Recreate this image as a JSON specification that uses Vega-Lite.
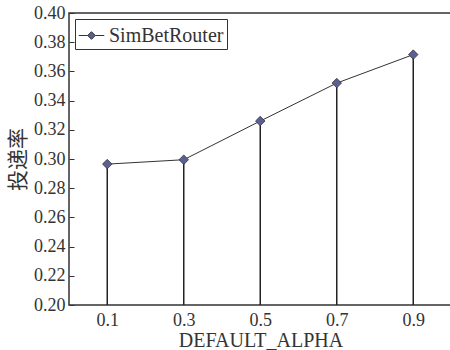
{
  "$schema": "https://vega.github.io/schema/vega-lite/v6.json",
  "autosize": "none",
  "padding": {"left": 69, "top": 13, "right": 0, "bottom": 45},
  "width": 383,
  "height": 292,
  "background": "white",
  "config": {
    "font": "Liberation Serif",
    "view": {"stroke": "#333", "strokeWidth": 1.5}
  },
  "data": {
    "values": [
      {"alpha": 0.1, "rate": 0.2965, "series": "SimBetRouter"},
      {"alpha": 0.3, "rate": 0.2995, "series": "SimBetRouter"},
      {"alpha": 0.5, "rate": 0.326, "series": "SimBetRouter"},
      {"alpha": 0.7, "rate": 0.352, "series": "SimBetRouter"},
      {"alpha": 0.9, "rate": 0.3715, "series": "SimBetRouter"}
    ]
  },
  "encoding": {
    "x": {
      "field": "alpha", "type": "quantitative",
      "scale": {"domain": [0, 1.0013], "nice": false, "zero": false},
      "axis": {
        "values": [0.1, 0.3, 0.5, 0.7, 0.9], "format": ".1f",
        "ticks": false, "grid": false, "domain": false,
        "labelFont": "Liberation Serif",
        "labelFontSize": 18, "labelColor": "#333", "labelPadding": 6,
        "title": "DEFAULT_ALPHA", "titleFont": "Liberation Serif", "titleFontSize": 20, "titleFontWeight": "normal",
        "titleColor": "#333", "titlePadding": 1
      }
    },
    "y": {
      "field": "rate", "type": "quantitative",
      "scale": {"domain": [0.2, 0.4], "nice": false, "zero": false},
      "axis": {
        "values": [0.2, 0.22, 0.24, 0.26, 0.28, 0.3, 0.32, 0.34, 0.36, 0.38, 0.4],
        "format": ".2f", "grid": false, "domain": false,
        "tickSize": -5, "tickColor": "#333", "labelPadding": 9,
        "labelFont": "Liberation Serif",
        "labelFontSize": 18, "labelColor": "#333",
        "title": "投递率", "titleFont": "Noto Sans CJK SC", "titleFontSize": 21,
        "titleFontWeight": "normal", "titleColor": "#333", "titlePadding": 5
      }
    }
  },
  "layer": [
    {
      "mark": {"type": "rule", "color": "#222", "strokeWidth": 1.5},
      "encoding": {"y2": {"datum": 0.2}}
    },
    {
      "mark": {"type": "line", "color": "#333", "strokeWidth": 1}
    },
    {
      "mark": {"type": "point", "shape": "diamond", "size": 90, "filled": true, "fill": "#5a5f96", "stroke": "#333", "strokeWidth": 0.8, "opacity": 1},
      "encoding": {
        "color": {
          "field": "series", "type": "nominal",
          "scale": {"range": ["#5a5f96"]},
          "legend": {
            "title": null, "orient": "top-left", "offset": 6,
            "strokeColor": "#333", "padding": 3,
            "symbolType": "M-1,0L-0.3,0M0.3,0L1,0M0,-0.3L0.3,0L0,0.3L-0.3,0Z",
            "symbolSize": 650, "symbolFillColor": "#5a5f96", "symbolStrokeColor": "#333",
            "symbolStrokeWidth": 1, "symbolOffset": 0,
            "labelFont": "Liberation Serif",
            "labelFontSize": 20, "labelColor": "#333", "labelOffset": 4
          }
        }
      }
    }
  ]
}
